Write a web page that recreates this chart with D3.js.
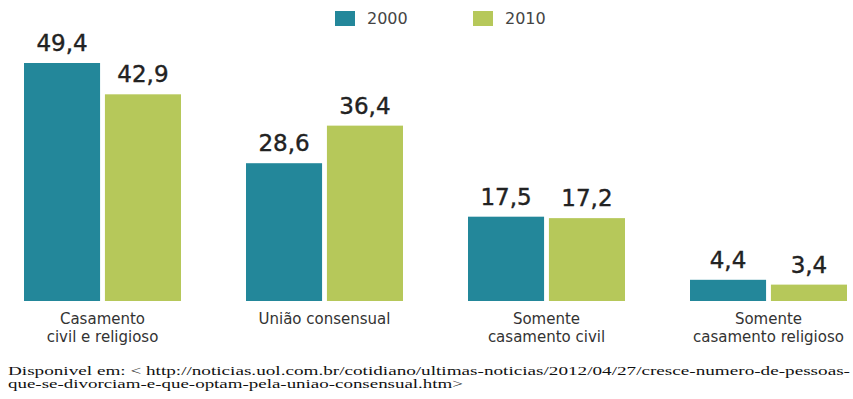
<!DOCTYPE html>
<html>
<head>
    <meta charset="utf-8">
    <title>Casamentos 2000 x 2010</title>
    <script src="https://cdn.jsdelivr.net/npm/d3@7"></script>
    <style>
        body { margin: 0; background: #fff; }
    </style>
</head>
<body>
    <svg id="chart"></svg>
    <script>
        // data
        const categories = [
            ['Casamento', 'civil e religioso'],
            ['União consensual'],
            ['Somente', 'casamento civil'],
            ['Somente', 'casamento religioso']
        ];
        const years = ['2000', '2010'];
        const values2000 = [49.4, 28.6, 17.5, 4.4];
        const values2010 = [42.9, 36.4, 17.2, 3.4];
        const colors = ['#23879a', '#b6c85a'];

        const W = 853, H = 399;
        const svg = d3.select('#chart')
            .attr('width', W)
            .attr('height', H)
            .style('font-family', 'DejaVu Sans, Verdana, sans-serif');

        const baseline = 301;
        const x = d3.scaleBand()
            .domain(d3.range(categories.length))
            .range([24, 24 + 222 * 4]);
        const inner = d3.scaleBand()
            .domain(years)
            .range([0, 157])
            .paddingInner(0.06);
        const y = d3.scaleLinear()
            .domain([0, 49.4])
            .range([baseline, 63]);

        const rows = categories.map((c, i) => ({ i, vals: [values2000[i], values2010[i]] }));

        const groups = svg.selectAll('g.grp')
            .data(rows)
            .join('g')
            .attr('class', 'grp')
            .attr('transform', d => `translate(${x(d.i)},0)`);

        groups.selectAll('rect')
            .data(d => d.vals.map((v, k) => ({ v, k })))
            .join('rect')
            .attr('x', d => inner(years[d.k]))
            .attr('y', d => y(d.v))
            .attr('width', inner.bandwidth())
            .attr('height', d => baseline - y(d.v))
            .attr('fill', d => colors[d.k]);

        groups.selectAll('text.val')
            .data(d => d.vals.map((v, k) => ({ v, k })))
            .join('text')
            .attr('class', 'val')
            .attr('x', d => inner(years[d.k]) + inner.bandwidth() / 2)
            .attr('y', d => y(d.v) - 12)
            .attr('text-anchor', 'middle')
            .attr('font-size', 23)
            .attr('fill', '#222')
            .attr('stroke', '#222')
            .attr('stroke-width', 0.4)
            .text(d => d3.format('.1f')(d.v).replace('.', ','));

        // category labels under each group
        groups.each(function (d) {
            const lines = categories[d.i];
            const t = d3.select(this).append('text')
                .attr('x', 157 / 2)
                .attr('y', 324)
                .attr('text-anchor', 'middle')
                .attr('font-size', 15)
                .attr('fill', '#333');
            lines.forEach((l, j) => {
                t.append('tspan')
                    .attr('x', 157 / 2)
                    .attr('dy', j === 0 ? 0 : 18)
                    .text(l);
            });
        });

        // legend
        const legend = svg.append('g');
        const legX = [335, 473];
        years.forEach((yr, k) => {
            legend.append('rect')
                .attr('x', legX[k]).attr('y', 11)
                .attr('width', 20).attr('height', 15)
                .attr('fill', colors[k]);
            legend.append('text')
                .attr('x', legX[k] + 32).attr('y', 24)
                .attr('font-size', 16)
                .attr('fill', '#444')
                .text(yr);
        });

        // source note, stretched like the scanned original
        const noteLines = [
            ['Disponivel  em:  < http://noticias.uol.com.br/cotidiano/ultimas-noticias/2012/04/27/cresce-numero-de-pessoas-', 842],
            ['que-se-divorciam-e-que-optam-pela-uniao-consensual.htm>', 455]
        ];
        noteLines.forEach(([txt, len], j) => {
            svg.append('text')
                .attr('x', 8).attr('y', 375 + j * 13)
                .attr('font-family', 'Liberation Serif, Times New Roman, serif')
                .attr('font-size', 11.5)
                .attr('fill', '#111')
                .attr('textLength', len)
                .attr('lengthAdjust', 'spacingAndGlyphs')
                .text(txt);
        });
    </script>
</body>
</html>
